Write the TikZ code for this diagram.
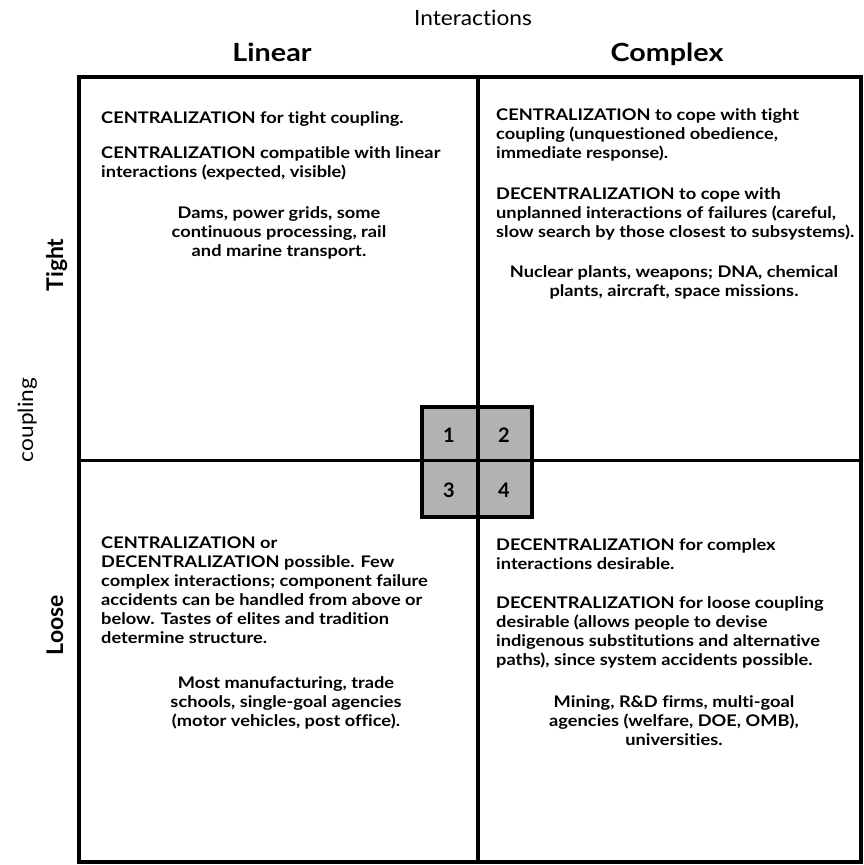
\documentclass[tikz,border=0pt]{standalone}
\usepackage{fontspec}
\setmainfont{Lato}[Ligatures={NoCommon,NoRare}]
\newfontfamily\widefont[FakeStretch=1.14,Ligatures={NoCommon,NoRare}]{Lato}
\newfontfamily\headfont[FakeStretch=1.15,Ligatures={NoCommon,NoRare}]{Lato}
\newfontfamily\axisfont[FakeStretch=1.08,Ligatures={NoCommon,NoRare}]{Lato}
\begin{document}
\begin{tikzpicture}[x=1pt,y=-1pt,
  body/.style={font=\widefont\bfseries\fontsize{16}{19}\selectfont, inner sep=0pt, align=left, anchor=base west},
  ex/.style={font=\widefont\bfseries\fontsize{16}{19}\selectfont, inner sep=0pt, align=center, anchor=base},
  head/.style={font=\headfont\bfseries\fontsize{25}{28}\selectfont, inner sep=0pt, anchor=base},
  side/.style={font=\bfseries\fontsize{23}{26}\selectfont, inner sep=0pt, anchor=base},
  axis/.style={font=\axisfont\fontsize{21}{24}\selectfont, inner sep=0pt, anchor=base},
  num/.style={font=\bfseries\fontsize{20}{22}\selectfont, inner sep=0pt},
  frame/.style={line width=4pt},
  divider/.style={line width=3.5pt}]
\useasboundingbox (0,0) rectangle (863,865);
\fill[white] (0,0) rectangle (863,865);
% headings
\node[axis] (inter) at (473,25) {Interactions};
\node[head] (lin) at (272,61) {Linear};
\node[head] (cpx) at (667,61) {Complex};
\node[side, rotate=90] (tight) at (63,265) {Tight};
\node[axis, rotate=90] (coup) at (33,420) {coupling};
\node[side, rotate=90] (loose) at (63,625) {Loose};
% frame and dividers
\draw[frame] (79,77) rectangle (861,862);
\draw[divider] (478,77) -- (478,862);
\draw[divider] (79,460.5) -- (861,460.5);
% centre box
\draw[divider, fill=black!30] (422,407) rectangle (532,517);
\draw[divider] (478,407) -- (478,517);
\draw[divider] (422,460.5) -- (532,460.5);
\node[num] (n1) at (449,435) {1};
\node[num] (n2) at (504,435) {2};
\node[num] (n3) at (449,490) {3};
\node[num] (n4) at (504,490) {4};
% quadrant 1 (anchor = baseline of last line)
\node[body] (q1a) at (101,123) {CENTRALIZATION for tight coupling.};
\node[body] (q1b) at (101,177) {CENTRALIZATION compatible with linear\\interactions (expected, visible)};
\node[ex] (q1c) at (279,256) {Dams, power grids, some\\continuous processing, rail\\and marine transport.};
% quadrant 2
\node[body] (q2a) at (496,158) {CENTRALIZATION to cope with tight\\coupling (unquestioned obedience,\\immediate response).};
\node[body] (q2b) at (496,237) {DECENTRALIZATION to cope with\\unplanned interactions of failures (careful,\\slow search by those closest to subsystems).};
\node[ex] (q2c) at (674,296) {Nuclear plants, weapons; DNA, chemical\\plants, aircraft, space missions.};
% quadrant 3
\node[body] (q3a) at (101,643) {CENTRALIZATION or\\DECENTRALIZATION possible. Few\\complex interactions; component failure\\accidents can be handled from above or\\below. Tastes of elites and tradition\\determine structure.};
\node[ex] (q3b) at (286,726) {Most manufacturing, trade\\schools, single-goal agencies\\(motor vehicles, post office).};
% quadrant 4
\node[body] (q4a) at (496,569) {DECENTRALIZATION for complex\\interactions desirable.};
\node[body] (q4b) at (496,665) {DECENTRALIZATION for loose coupling\\desirable (allows people to devise\\indigenous substitutions and alternative\\paths), since system accidents possible.};
\node[ex] (q4c) at (674,745) {Mining, R\&D firms, multi-goal\\agencies (welfare, DOE, OMB),\\universities.};
\end{tikzpicture}
\end{document}
